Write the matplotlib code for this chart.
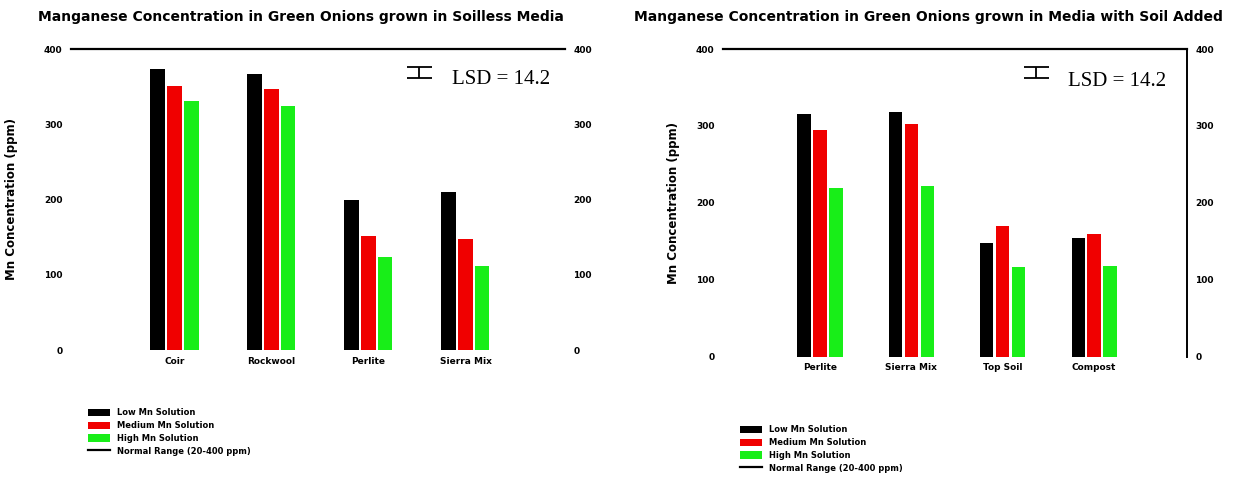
import matplotlib
matplotlib.use("Agg")
import matplotlib.pyplot as plt
from matplotlib.lines import Line2D
import numpy as np

# data
left_media = ["Coir", "Rockwool", "Perlite", "Sierra Mix"]
right_media = ["Perlite", "Sierra Mix", "Top Soil", "Compost"]
series_names = ["Low Mn Solution", "Medium Mn Solution", "High Mn Solution",
                "Normal Range (20-400 ppm)"]
left_low = [373, 367, 200, 210]
left_med = [351, 347, 151, 147]
left_high = [331, 324, 124, 112]
right_low = [315, 318, 147, 154]
right_med = [295, 302, 170, 160]
right_high = [219, 222, 117, 118]
upper_limit = 400
lsd = 14.2
yticks = [0, 100, 200, 300, 400]

colors = ["#000000", "#f00000", "#18ee18"]

fig = plt.figure(figsize=(12.37, 4.79), dpi=100)
W, H = 1237.0, 479.0


def panel(rect, cats, vals, title, title_x, lsd_xy, text_xy, xlim, right_spine, leg_xy, ylab_x):
    ax = fig.add_axes(rect)
    x = np.arange(len(cats))
    bw = 0.145
    step = 0.175
    bars = []
    for i, v in enumerate(vals):
        b = ax.bar(x + (i - 1) * step, v, bw, color=colors[i], edgecolor="none")
        bars.append(b)
    ax.set_xlim(*xlim)
    ax.set_ylim(0, upper_limit)
    ax.axhline(upper_limit, color="black", lw=1.6, clip_on=False)
    for s in ["left", "bottom", "top", "right"]:
        ax.spines[s].set_visible(False)
    if right_spine:
        ax.spines["right"].set_visible(True)
        ax.spines["right"].set_linewidth(1.4)
    ax.set_xticks(x)
    ax.set_xticklabels(cats, fontsize=6.5, fontweight="bold")
    ax.tick_params(axis="x", length=0, pad=5)
    ax.set_yticks(yticks)
    ax.set_yticklabels([str(t) for t in yticks], fontsize=6.5, fontweight="bold")
    ax.tick_params(axis="y", length=0, pad=6, labelright=True, labelleft=True)
    ax.set_ylabel("Mn Concentration (ppm)", fontsize=8.5, fontweight="bold")
    ax.yaxis.set_label_coords(ylab_x, 0.5)
    fig.text(title_x, 1 - 17 / H, title, fontsize=10, fontweight="bold",
             ha="left", va="center")
    # LSD bar
    ax.errorbar(lsd_xy[0], lsd_xy[1], yerr=lsd / 2, color="black", lw=1.3,
                capsize=9, capthick=1.3)
    ax.text(text_xy[0], text_xy[1], "LSD = %.1f" % lsd, fontsize=15,
            family="Liberation Serif", va="center", ha="left")
    handles = [b[0] for b in bars] + [Line2D([0], [0], color="black", lw=1.6)]
    fig.legend(handles, series_names, loc="upper left", bbox_to_anchor=leg_xy,
               frameon=False, prop={"weight": "bold", "size": 6},
               handlelength=2.6, handleheight=1.0, labelspacing=0.45,
               handletextpad=0.8, borderaxespad=0)
    return ax


panel([71 / W, (H - 350) / H, 494 / W, 301 / H], left_media,
      [left_low, left_med, left_high],
      "Manganese Concentration in Green Onions grown in Soilless Media", 38 / W,
      (2.52, 369), (2.86, 359), (-1.067, 4.026), False,
      (85 / W, 1 - 405 / H), -0.107)

panel([723 / W, (H - 356.5) / H, 464 / W, 307.5 / H], right_media,
      [right_low, right_med, right_high],
      "Manganese Concentration in Green Onions grown in Media with Soil Added", 634 / W,
      (2.366, 369), (2.71, 358), (-1.06, 4.016), True,
      (737 / W, 1 - 422 / H), -0.093)

fig.savefig("out.png", dpi=100)
